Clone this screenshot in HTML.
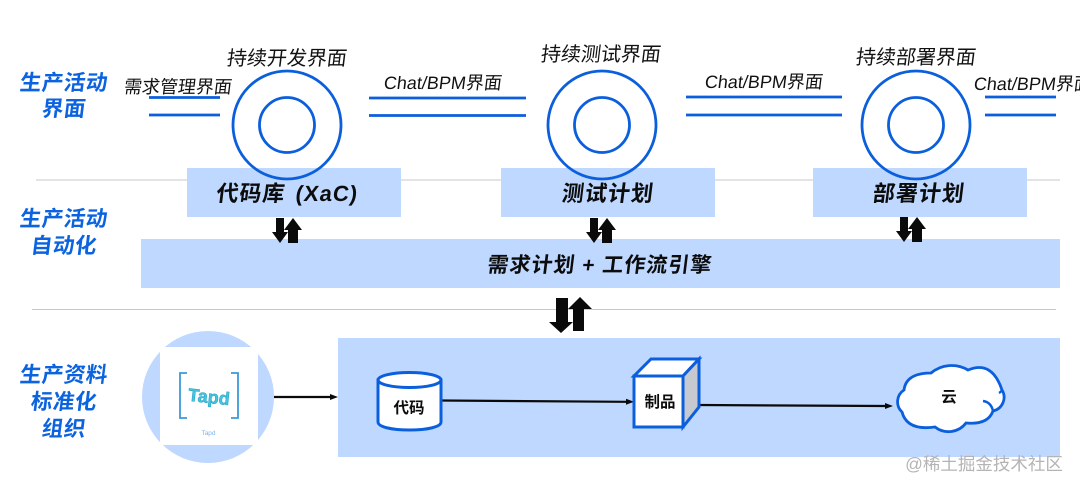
<!DOCTYPE html>
<html><head><meta charset="utf-8"><style>
html,body{margin:0;padding:0;background:#fff}
svg{display:block}
text{font-family:"Liberation Sans","Noto Sans CJK SC",sans-serif}
.h,.t,.c,.b{transform-box:fill-box;transform-origin:center;transform:skewX(-7deg)}
.h{font-size:21.500px;font-weight:700;fill:#0b63e0;text-anchor:middle;letter-spacing:.5px}
.t{font-size:20px;fill:#111;text-anchor:middle}
.c{font-size:18px;fill:#111;text-anchor:middle}
.b{font-size:22px;font-weight:700;fill:#0c0c0c;text-anchor:middle;letter-spacing:1px}
.n{font-size:15.500px;font-weight:700;fill:#0c0c0c;text-anchor:middle}
.l{stroke:#0b5fdc;stroke-width:2.800;fill:none}
</style></head><body>
<svg width="1080" height="490" viewBox="0 0 1080 490" xmlns="http://www.w3.org/2000/svg">
<rect width="1080" height="490" fill="#fff"/>
<line x1="36" y1="180" x2="1060" y2="180" stroke="#c8c8c8" stroke-width="1"/>
<line x1="32" y1="309.500" x2="1056" y2="309.500" stroke="#c8c8c8" stroke-width="1"/>

<text class="h" x="64" y="90">生产活动</text><text class="h" x="64" y="116">界面</text>
<text class="h" x="64" y="226">生产活动</text><text class="h" x="64" y="253">自动化</text>
<text class="h" x="64" y="382">生产资料</text><text class="h" x="64" y="409">标准化</text><text class="h" x="64" y="436">组织</text>

<text class="c" x="178" y="93">需求管理界面</text>
<text class="t" x="287" y="65">持续开发界面</text>
<text class="t" x="601" y="61">持续测试界面</text>
<text class="t" x="916" y="64">持续部署界面</text>
<text class="c" x="443" y="89">Chat/BPM界面</text>
<text class="c" x="764" y="88">Chat/BPM界面</text>
<text class="c" x="974" y="90" style="text-anchor:start">Chat/BPM界面</text>

<path class="l" d="M149 97.500H220M149 115H220M369 98H526M369 115.500H526M686 97H842M686 115H842M985 97H1056M985 115H1056"/>

<rect x="187" y="168" width="214" height="49" fill="#bfd8ff"/>
<rect x="501" y="168" width="214" height="49" fill="#bfd8ff"/>
<rect x="813" y="168" width="214" height="49" fill="#bfd8ff"/>
<rect x="141" y="239" width="919" height="49" fill="#bfd8ff"/>
<rect x="338" y="338" width="722" height="119" fill="#bfd8ff"/>

<circle class="l" cx="287" cy="125" r="54"/><circle class="l" cx="287" cy="125" r="27.500"/>
<circle class="l" cx="602" cy="125" r="54"/><circle class="l" cx="602" cy="125" r="27.500"/>
<circle class="l" cx="916" cy="125" r="54"/><circle class="l" cx="916" cy="125" r="27.500"/>

<text class="b" x="251" y="201">代码库</text>
<text class="b" x="327" y="201">(XaC)</text>
<text class="b" x="608" y="201">测试计划</text>
<text class="b" x="919" y="201">部署计划</text>
<text class="b" x="600" y="272" style="font-size:21px">需求计划 + 工作流引擎</text>

<path fill="#0a0a0a" d="M276 218h8v14h4l-8 11-8-11h4zM288 243v-13h-4l9-12 9 12h-4v13z"/>
<path fill="#0a0a0a" d="M590 218h8v14h4l-8 11-8-11h4zM602 243v-13h-4l9-12 9 12h-4v13z"/>
<path fill="#0a0a0a" d="M900 217h8v14h4l-8 11-8-11h4zM912 242v-13h-4l9-12 9 12h-4v13z"/>
<path fill="#0a0a0a" d="M556 298h12v24h5l-12 11-12-11h7zM573 331v-22h-5l12-12 12 12h-8v22z"/>

<circle cx="208" cy="397" r="66" fill="#bfd8ff"/>
<rect x="160" y="347" width="98" height="98" fill="#fff"/>
<path d="M187 373h-7v45h7M231 373h7v45h-7" fill="none" stroke="#3a9ad8" stroke-width="1.800"/>
<text x="209" y="403" text-anchor="middle" transform="rotate(6 209 397)" style="font-size:18px;font-weight:700;fill:#45c4dc;stroke:#1f9fc8;stroke-width:.5px">Tapd</text>
<text x="208.500" y="435" text-anchor="middle" style="font-size:6.500px;fill:#7fb2ee">Tapd</text>

<path d="M274 397H330" stroke="#0a0a0a" stroke-width="2.200" fill="none"/><path d="M330 394l8 3-8 3z" fill="#0a0a0a"/>
<path d="M441 400.500L626 401.800" stroke="#0a0a0a" stroke-width="2.200" fill="none"/><path d="M626 398.800l8 3-8 3z" fill="#0a0a0a"/>
<path d="M699 405L885 406" stroke="#0a0a0a" stroke-width="2.200" fill="none"/><path d="M885 403l8 3-8 3z" fill="#0a0a0a"/>

<path d="M378 380v42c0 5 14 8 31.500 8s31.500-3 31.500-8v-42z" fill="#fff" stroke="#0b5fdc" stroke-width="3"/>
<ellipse cx="409.500" cy="380" rx="31.500" ry="7.500" fill="#fff" stroke="#0b5fdc" stroke-width="3"/>
<text class="n" x="409" y="413">代码</text>

<path d="M634 376h49v51h-49z" fill="#fff" stroke="#0b5fdc" stroke-width="3"/>
<path d="M634 376l17-17h48l-16 17z" fill="#fff" stroke="#0b5fdc" stroke-width="3"/>
<path d="M683 376l16-17v48l-16 20z" fill="#c6c9cf" stroke="#0b5fdc" stroke-width="3"/>
<text class="n" x="660" y="407">制品</text>

<path d="M902 412A14 14 0 0 1 904 390Q906 373 931 373A32 32 0 0 1 968 370Q992 360 1002 390A14 14 0 0 1 993 411Q988 425 966 423A22 22 0 0 1 935 427Q907 431 902 412Z" fill="#fff" stroke="#0b5fdc" stroke-width="2.800"/>
<path d="M983 401q8 1 10 10M1002 390q-1 2-3 3" fill="none" stroke="#0b5fdc" stroke-width="2.500"/>
<text class="n" x="949" y="402">云</text>

<text x="984" y="470" text-anchor="middle" style="font-size:17.500px;fill:#b4b4b4">@稀土掘金技术社区</text>
</svg>
</body></html>
